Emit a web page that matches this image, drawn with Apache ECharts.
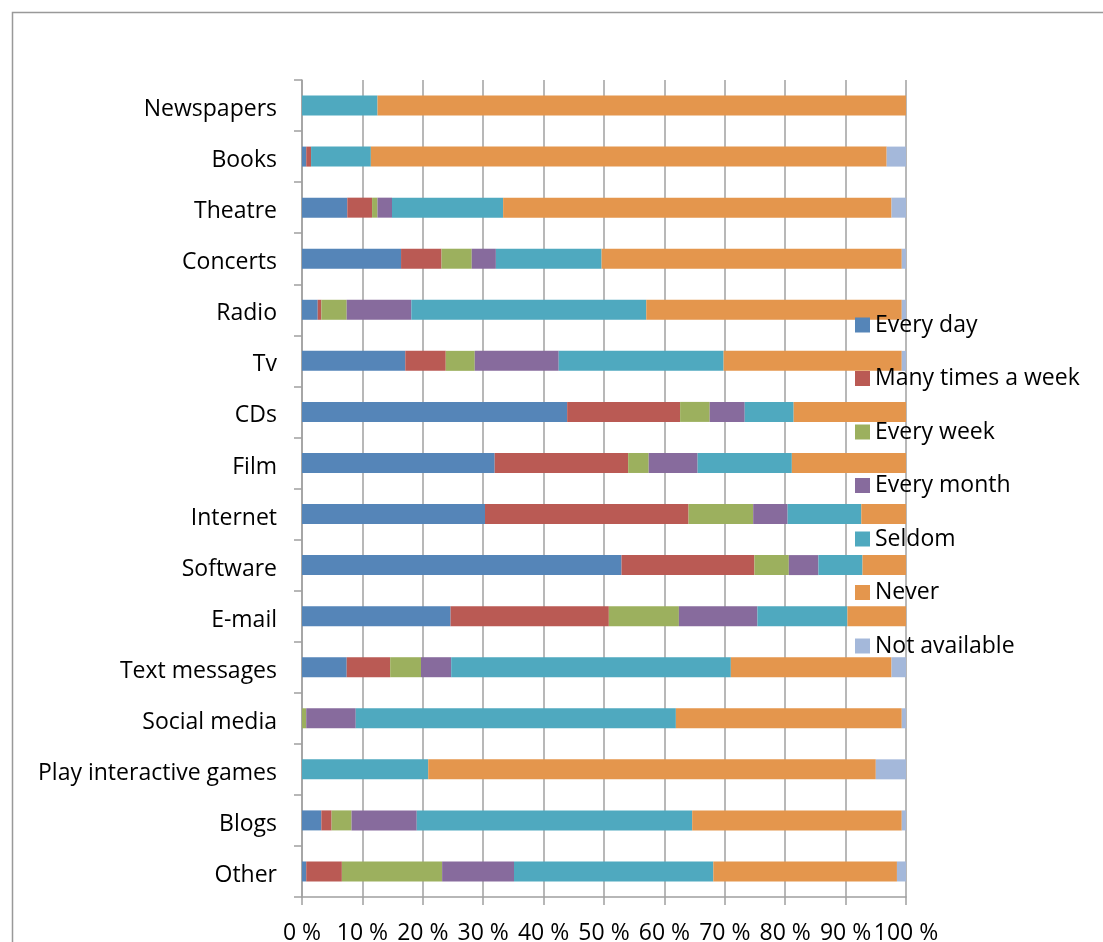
<!DOCTYPE html>
<html>
<head>
<meta charset="utf-8">
<script src="https://cdn.jsdelivr.net/npm/echarts@6/dist/echarts.min.js"></script>
<style>
  html, body { margin: 0; padding: 0; background: #fff; }
  #chart { width: 1103px; height: 942px; }
</style>
</head>
<body>
<div id="chart"></div>
<script>
// Media use frequency, share of respondents (%) per category
const categories = ['Newspapers', 'Books', 'Theatre', 'Concerts', 'Radio', 'Tv', 'CDs', 'Film',
  'Internet', 'Software', 'E-mail', 'Text messages', 'Social media', 'Play interactive games', 'Blogs', 'Other'];

const everyDay     = [0, 0.7, 7.5, 16.4, 2.6, 17.1, 43.9, 31.9, 30.3, 52.9, 24.6, 7.4, 0, 0, 3.2, 0.7];
const manyTimes    = [0, 0.8, 4.1, 6.7, 0.6, 6.7, 18.7, 22.1, 33.7, 22.0, 26.2, 7.2, 0, 0, 1.7, 5.9];
const everyWeek    = [0, 0, 0.9, 5.0, 4.2, 4.8, 4.9, 3.4, 10.7, 5.7, 11.6, 5.1, 0.7, 0, 3.3, 16.6];
const everyMonth   = [0, 0, 2.4, 4.0, 10.7, 13.9, 5.8, 8.1, 5.7, 4.9, 13.0, 5.0, 8.2, 0, 10.8, 11.9];
const seldom       = [12.5, 9.9, 18.4, 17.5, 38.9, 27.3, 8.1, 15.6, 12.2, 7.3, 14.9, 46.3, 53.0, 20.9, 45.6, 33.0];
const never        = [87.5, 85.4, 64.3, 49.7, 42.3, 29.5, 18.6, 18.9, 7.4, 7.2, 9.7, 26.6, 37.4, 74.1, 34.7, 30.4];
const notAvailable = [0, 3.2, 2.4, 0.7, 0.7, 0.7, 0, 0, 0, 0, 0, 2.4, 0.7, 5.0, 0.7, 1.5];

const seriesNames = ['Every day', 'Many times a week', 'Every week', 'Every month', 'Seldom', 'Never', 'Not available'];
const seriesValues = [everyDay, manyTimes, everyWeek, everyMonth, seldom, never, notAvailable];
const colors = ['#5585B8', '#BA5A54', '#9CB05E', '#876B9D', '#4FA9BF', '#E4964D', '#A4B8DA'];

const FONT = '"Open Sans", sans-serif';
const GRAY = '#a0a0a0';

const chart = echarts.init(document.getElementById('chart'), null, { renderer: 'canvas' });

chart.setOption({
  animation: false,
  backgroundColor: '#ffffff',
  color: colors,
  textStyle: { fontFamily: FONT, color: '#000' },
  graphic: [
    {
      // chart area frame (top and left edges)
      type: 'polyline',
      shape: { points: [[12.5, 942], [12.5, 12.5], [1103, 12.5]] },
      style: { stroke: '#999', lineWidth: 1.5, fill: null },
      silent: true
    }
  ],
  grid: { left: 302, right: 197, top: 80, bottom: 45, containLabel: false, outerBoundsMode: 'none' },
  legend: {
    orient: 'vertical',
    left: 850,
    top: 308,
    itemWidth: 15,
    itemHeight: 15,
    itemGap: 29.5,
    icon: 'rect',
    data: seriesNames,
    textStyle: { fontFamily: FONT, fontSize: 23, color: '#000', lineHeight: 24 }
  },
  xAxis: {
    type: 'value',
    min: 0,
    max: 100,
    interval: 10,
    axisLine: { show: true, lineStyle: { color: GRAY, width: 1.5 } },
    axisTick: { show: true, length: 8, lineStyle: { color: GRAY, width: 1.5 } },
    splitLine: { show: true, lineStyle: { color: GRAY, width: 1.5 } },
    axisLabel: {
      formatter: '{value} %',
      fontFamily: FONT,
      fontSize: 23,
      color: '#000',
      margin: 25
    }
  },
  yAxis: {
    type: 'category',
    inverse: true,
    data: categories,
    axisLine: { show: true, lineStyle: { color: GRAY, width: 1.5 } },
    axisTick: { show: true, length: 8, lineStyle: { color: GRAY, width: 1.5 } },
    axisLabel: {
      fontFamily: FONT,
      fontSize: 23,
      color: '#000',
      margin: 25,
      verticalAlign: 'top',
      lineHeight: 8
    }
  },
  series: seriesNames.map((name, i) => ({
    name: name,
    type: 'bar',
    stack: 'total',
    barWidth: 20,
    data: seriesValues[i],
    itemStyle: { color: colors[i] }
  }))
});
</script>
</body>
</html>
